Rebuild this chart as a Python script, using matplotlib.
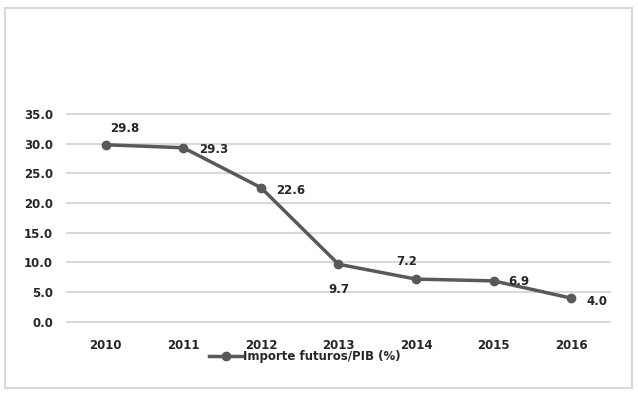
import matplotlib.pyplot as plt
from matplotlib.patches import Rectangle

years = ['2010', '2011', '2012', '2013', '2014', '2015', '2016']
values = [29.8, 29.3, 22.6, 9.7, 7.2, 6.9, 4.0]
# data label offsets from each point, in pixels (dx, dy)
label_offsets = [(19, 16), (30, -2), (30, -3), (0, -25), (-9, 18), (25, -1), (26, -3)]

fig = plt.figure(figsize=(6.38, 3.94), dpi=100)
ax = fig.add_axes([0.105, 0.183, 0.851, 0.528])

# chart border
fig.patches.append(Rectangle((0.008, 0.015), 0.983, 0.965, transform=fig.transFigure,
                             fill=False, edgecolor='#d9d9d9', linewidth=1.5))

x = list(range(len(years)))
ax.plot(x, values, color='#595959', linewidth=2.5, marker='o', markersize=6,
        label='Importe futuros/PIB (%)')

for xi, v, (dx, dy) in zip(x, values, label_offsets):
    ax.annotate(f'{v:.1f}', (xi, v), xytext=(dx, dy), textcoords='offset pixels',
                ha='center', va='center', fontsize=8.5, fontweight='bold', color='#262626')

ax.set_xlim(-0.5, len(years) - 0.5)
ax.set_ylim(0, 35)
ax.set_yticks([0, 5, 10, 15, 20, 25, 30, 35])
ax.set_yticklabels([f'{t:.1f}' for t in ax.get_yticks()])
ax.set_xticks(x)
ax.set_xticklabels(years)
ax.tick_params(axis='y', length=0, labelsize=8.5, colors='#262626', pad=10)
ax.tick_params(axis='x', length=0, labelsize=8.5, colors='#262626', pad=12)
for lab in ax.get_xticklabels() + ax.get_yticklabels():
    lab.set_fontweight('bold')
ax.grid(axis='y', color='#d9d9d9', linewidth=1.5)
for gl in ax.get_ygridlines():
    gl.set_clip_on(False)
ax.set_axisbelow(True)
for s in ax.spines.values():
    s.set_visible(False)

leg = fig.legend(loc='center', bbox_to_anchor=(0.478, 0.094), frameon=False,
                 fontsize=8.5, handlelength=2.8, handletextpad=0.1)
for t in leg.get_texts():
    t.set_fontweight('bold')
    t.set_color('#262626')

fig.savefig('out.png', dpi=100)
